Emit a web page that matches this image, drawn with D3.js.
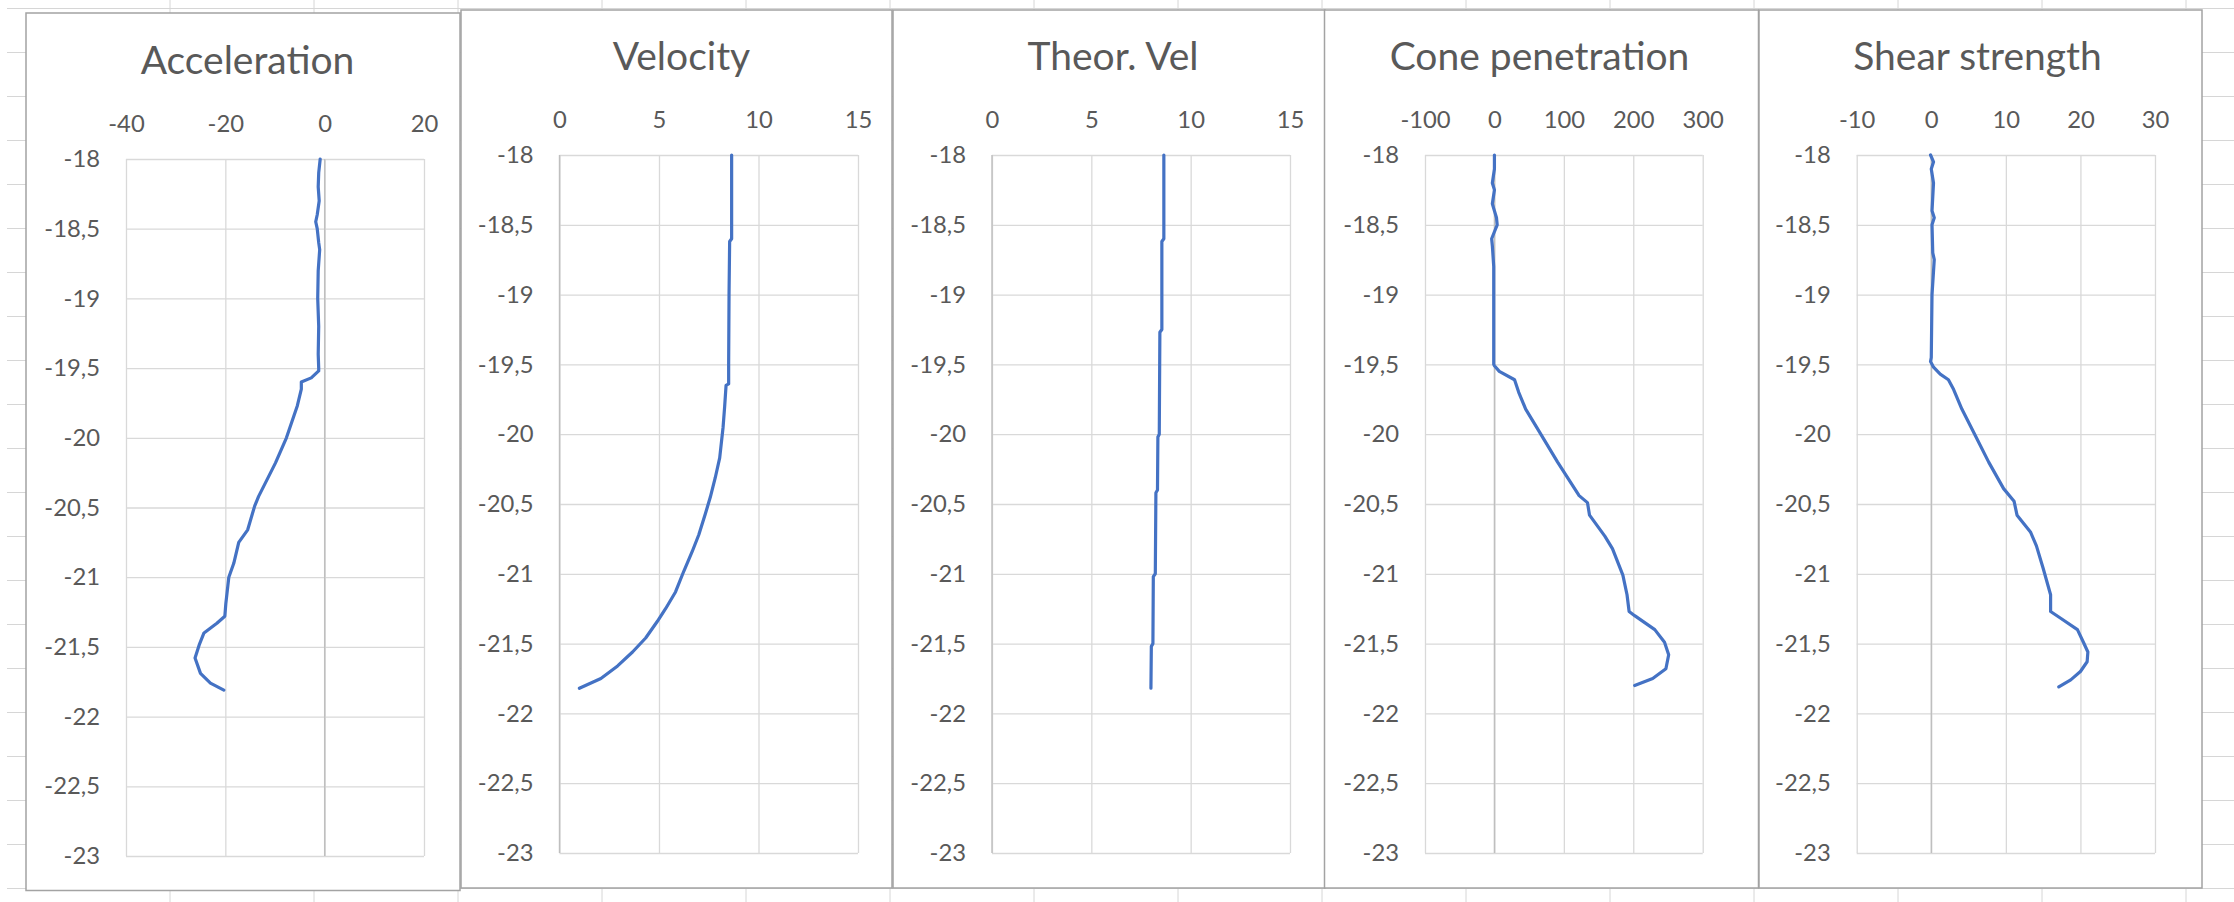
<!DOCTYPE html>
<html>
<head>
<meta charset="utf-8">
<script src="https://cdn.jsdelivr.net/npm/d3@7"></script>
<style>
  body { margin: 0; background: #fff; }
  text { font-family: Lato, "Open Sans", sans-serif; fill: #595959; }
</style>
</head>
<body>
<svg id="chart"></svg>
<script>
// depth ticks shared by all five panels
const depthTicks = [-18, -18.5, -19, -19.5, -20, -20.5, -21, -21.5, -22, -22.5, -23];

const titles = ["Acceleration", "Velocity", "Theor. Vel", "Cone penetration", "Shear strength"];

const accTicks = [-40, -20, 0, 20];
const velTicks = [0, 5, 10, 15];
const coneTicks = [-100, 0, 100, 200, 300];
const shearTicks = [-10, 0, 10, 20, 30];

const accDepth = [-18, -18.1, -18.2, -18.3, -18.4, -18.45, -18.5, -18.6, -18.65, -18.8, -19.0, -19.2, -19.4, -19.5,
  -19.52, -19.57, -19.6, -19.65, -19.77, -20.0, -20.18, -20.42, -20.49, -20.66, -20.75, -20.9, -21.0, -21.19,
  -21.28, -21.33, -21.4, -21.48, -21.58, -21.69, -21.76, -21.81];
const accValue = [-0.9, -1.2, -1.3, -1.1, -1.5, -1.8, -1.5, -1.2, -1.0, -1.3, -1.4, -1.2, -1.3, -1.2,
  -1.2, -2.7, -4.7, -4.7, -5.5, -7.7, -9.9, -13.3, -14.1, -15.5, -17.3, -18.3, -19.3, -19.9,
  -20.1, -21.7, -24.3, -25.2, -26.1, -25.0, -23.0, -20.3];

const velDepth = [-18, -18.6, -18.62, -19.0, -19.5, -19.64, -19.65, -19.8, -19.95, -20.17, -20.31, -20.45,
  -20.57, -20.72, -20.84, -20.98, -21.13, -21.25, -21.34, -21.46, -21.56, -21.66, -21.75, -21.82];
const velValue = [8.65, 8.65, 8.55, 8.52, 8.5, 8.5, 8.37, 8.3, 8.22, 8.05, 7.83, 7.58,
  7.33, 7.0, 6.67, 6.25, 5.83, 5.33, 4.92, 4.33, 3.67, 2.92, 2.08, 1.0];

const theorDepth = [-18, -18.6, -18.62, -19.25, -19.27, -20.0, -20.02, -20.4, -20.42, -21.0, -21.02, -21.5, -21.52, -21.82];
const theorValue = [8.65, 8.65, 8.55, 8.55, 8.45, 8.42, 8.35, 8.33, 8.25, 8.22, 8.12, 8.1, 8.02, 8.0];

const coneDepth = [-18, -18.1, -18.2, -18.25, -18.35, -18.45, -18.5, -18.55, -18.6, -18.65, -18.8, -19.0, -19.3, -19.5,
  -19.51, -19.55, -19.61, -19.7, -19.82, -19.96, -20.2, -20.44, -20.49, -20.58, -20.73, -20.82, -21.01,
  -21.15, -21.27, -21.3, -21.4, -21.49, -21.58, -21.68, -21.75, -21.8];
const coneValue = [0, 0, -3, 0, -3, 3, 4, 0, -4, -3, -1, -1, -1, -1,
  0, 7, 29, 35, 45, 62, 91, 122, 134, 137, 159, 170, 185,
  191, 194, 202, 231, 245, 251, 247, 228, 202];

const shearDepth = [-18, -18.05, -18.1, -18.2, -18.4, -18.45, -18.5, -18.7, -18.75, -19.0, -19.45, -19.48,
  -19.52, -19.57, -19.61, -19.68, -19.82, -20.01, -20.2, -20.39, -20.48, -20.58, -20.7, -20.8, -20.96,
  -21.15, -21.27, -21.32, -21.4, -21.49, -21.56, -21.63, -21.7, -21.76, -21.81];
const shearValue = [-0.1, 0.3, 0, 0.3, 0.1, 0.4, 0.1, 0.2, 0.4, 0.1, 0.0, -0.1,
  0.3, 1.2, 2.3, 3.0, 4.1, 5.9, 7.7, 9.7, 11.1, 11.5, 13.3, 14.1, 15.0,
  16.0, 16.0, 17.4, 19.6, 20.4, 21.0, 20.9, 20.0, 18.7, 17.1];

const width = 2234;
const height = 902;

// chart boxes and plot areas on the sheet: [x0, y0, x1, y1]
const layout = [
  { box: [26, 13, 460, 890.5], plot: [126, 159, 424, 856], titleX: 247.5, titleY: 74 },
  { box: [461, 10, 892, 888], plot: [559.5, 155, 858, 853], titleX: 681.5, titleY: 70 },
  { box: [893, 10, 1325, 888], plot: [992, 155, 1290, 853], titleX: 1113, titleY: 70 },
  { box: [1324.5, 10, 1758.5, 888], plot: [1425, 155, 1702.7, 853], titleX: 1539.5, titleY: 70 },
  { box: [1759, 10, 2202, 888], plot: [1856.7, 155, 2155, 853], titleX: 1977.5, titleY: 70 }
];

const panels = [
  { depth: accDepth, value: accValue, domain: [-40, 20], ticks: accTicks },
  { depth: velDepth, value: velValue, domain: [0, 15], ticks: velTicks },
  { depth: theorDepth, value: theorValue, domain: [0, 15], ticks: velTicks },
  { depth: coneDepth, value: coneValue, domain: [-100, 300], ticks: coneTicks },
  { depth: shearDepth, value: shearValue, domain: [-10, 30], ticks: shearTicks }
].map((p, i) => Object.assign(p, layout[i], { title: titles[i] }));

const svg = d3.select("#chart").attr("width", width).attr("height", height);

// spreadsheet cells behind the charts
const sheet = svg.append("g").attr("stroke", "#d6d6d6").attr("stroke-width", 1);
sheet.selectAll(".col")
  .data(d3.range(170, width, 144))
  .enter()
  .append("line")
  .attr("x1", (d) => d).attr("x2", (d) => d)
  .attr("y1", 0).attr("y2", height);
sheet.selectAll(".row")
  .data(d3.range(8.5, height, 44))
  .enter()
  .append("line")
  .attr("x1", 7).attr("x2", width)
  .attr("y1", (d) => d).attr("y2", (d) => d);

// plain hyphen and decimal comma, as Excel shows them
const fmt = (d) => String(d).replace(".", ",");

panels.forEach(function (p) {
  const [bx0, by0, bx1, by1] = p.box;
  const [px0, py0, px1, py1] = p.plot;
  const g = svg.append("g");

  g.append("rect")
    .attr("x", bx0).attr("y", by0)
    .attr("width", bx1 - bx0).attr("height", by1 - by0)
    .attr("fill", "#fff")
    .attr("stroke", "#a3a3a3")
    .attr("stroke-width", 1.5);

  const x = d3.scaleLinear().domain(p.domain).range([px0, px1]);
  const y = d3.scaleLinear().domain([-23, -18]).range([py1, py0]);

  // gridlines
  g.append("g")
    .attr("transform", "translate(0," + py1 + ")")
    .call(d3.axisBottom(x).tickValues(p.ticks).tickSize(-(py1 - py0)).tickFormat(""))
    .call((a) => a.select(".domain").remove())
    .selectAll("line").attr("stroke", "#d9d9d9").attr("stroke-width", 1.3);

  g.append("g")
    .attr("transform", "translate(" + px0 + ",0)")
    .call(d3.axisLeft(y).tickValues(depthTicks).tickSize(-(px1 - px0)).tickFormat(""))
    .call((a) => a.select(".domain").remove())
    .selectAll("line").attr("stroke", "#d9d9d9").attr("stroke-width", 1.3);

  // vertical axis line where x = 0
  g.append("line")
    .attr("x1", x(0)).attr("x2", x(0))
    .attr("y1", py0).attr("y2", py1)
    .attr("stroke", "#bfbfbf").attr("stroke-width", 1.4);

  // tick labels
  g.append("g")
    .attr("transform", "translate(0," + py0 + ")")
    .call(d3.axisTop(x).tickValues(p.ticks).tickSize(0).tickPadding(27.5).tickFormat(fmt))
    .call((a) => a.select(".domain").remove())
    .selectAll("text").style("font-size", "23.8px");

  g.append("g")
    .attr("transform", "translate(" + px0 + ",0)")
    .call(d3.axisLeft(y).tickValues(depthTicks).tickSize(0).tickPadding(26).tickFormat(fmt))
    .call((a) => a.select(".domain").remove())
    .selectAll("text").style("font-size", "23.8px");

  g.append("text")
    .attr("x", p.titleX).attr("y", p.titleY)
    .attr("text-anchor", "middle")
    .style("font-size", "39px")
    .text(p.title);

  const line = d3.line()
    .x((d) => x(d[1]))
    .y((d) => y(d[0]));

  g.append("path")
    .datum(d3.zip(p.depth, p.value))
    .attr("d", line)
    .attr("fill", "none")
    .attr("stroke", "#4472c4")
    .attr("stroke-width", 3.2)
    .attr("stroke-linejoin", "round")
    .attr("stroke-linecap", "round");
});
</script>
</body>
</html>
